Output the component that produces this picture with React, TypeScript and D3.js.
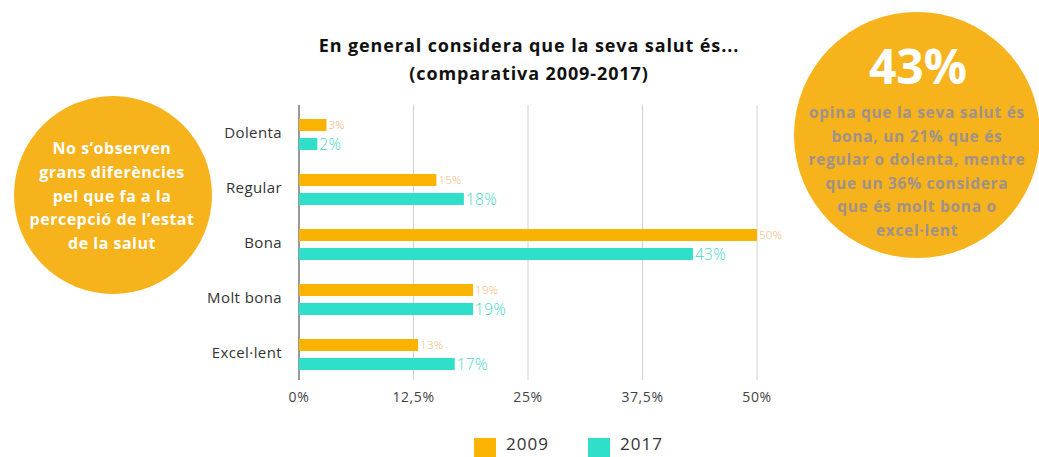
import React, { useEffect, useRef } from "react";
import * as d3 from "d3";

// dades llegides del gràfic
const categories = ["Dolenta", "Regular", "Bona", "Molt bona", "Excel·lent"];
const years = ["2009", "2017"];
const values2009 = [3, 15, 50, 19, 13];
const values2017 = [2, 18, 43, 19, 17];
const xTicks = [0, 12.5, 25, 37.5, 50];
const xTickLabels = ["0%", "12,5%", "25%", "37,5%", "50%"];

const leftNote = [
  "No s’observen",
  "grans diferències",
  "pel que fa a la",
  "percepció de l’estat",
  "de la salut",
];
const rightNote = [
  "opina que la seva salut és",
  "bona, un 21% que és",
  "regular o dolenta, mentre",
  "que un 36% considera",
  "que és molt bona o",
  "excel·lent",
];

const FONT = "'Open Sans', 'Noto Sans', sans-serif";
const ORANGE = "#f9b300";
const TEAL = "#2fdfca";
const CIRCLE = "#f6b31c";

export default function App() {
  const svgRef = useRef<SVGSVGElement | null>(null);

  useEffect(() => {
    const w = 1039;
    const h = 457;
    const svg = d3
      .select(svgRef.current)
      .attr("width", w)
      .attr("height", h)
      .style("background", "#fff")
      .style("font-family", FONT);
    svg.selectAll("*").remove();

    const xScale = d3.scaleLinear().domain([0, 50]).range([299, 757]);
    const yScale = d3.scaleBand().domain(categories).range([105, 380]);
    const yInner = d3
      .scaleBand()
      .domain(years)
      .range([14, 45])
      .paddingInner(0.368);

    // title
    [
      "En general considera que la seva salut és...",
      "(comparativa 2009-2017)",
    ].forEach((t, i) => {
      svg
        .append("text")
        .attr("x", 529)
        .attr("y", 52 + i * 28)
        .attr("text-anchor", "middle")
        .attr("font-size", "18px")
        .attr("letter-spacing", "0.9px")
        .attr("font-weight", "bold")
        .attr("fill", "#111")
        .text(t);
    });

    // grid
    svg
      .append("g")
      .selectAll("line")
      .data(xTicks.slice(1))
      .join("line")
      .attr("x1", (d) => xScale(d))
      .attr("x2", (d) => xScale(d))
      .attr("y1", 105)
      .attr("y2", 380)
      .attr("stroke", "#d0d0d0")
      .attr("stroke-width", 1);

    svg
      .append("line")
      .attr("x1", xScale(0))
      .attr("x2", xScale(0))
      .attr("y1", 105)
      .attr("y2", 380)
      .attr("stroke", "#555")
      .attr("stroke-width", 1.2);

    // x tick labels
    svg
      .append("g")
      .selectAll("text")
      .data(xTicks)
      .join("text")
      .attr("x", (d) => xScale(d))
      .attr("y", 402)
      .attr("text-anchor", "middle")
      .attr("font-size", "14px")
      .attr("letter-spacing", "0.6px")
      .attr("fill", "#444")
      .text((d, i) => xTickLabels[i]);

    // category labels
    svg
      .append("g")
      .selectAll("text")
      .data(categories)
      .join("text")
      .attr("x", 282)
      .attr("y", (d) => (yScale(d) as number) + yScale.bandwidth() / 2 + 5)
      .attr("text-anchor", "end")
      .attr("font-size", "15px")
      .attr("letter-spacing", "0.4px")
      .attr("fill", "#333")
      .text((d) => d);

    const series = [
      { year: "2009", values: values2009, color: ORANGE, label: "#f4b774", size: 11.5 },
      { year: "2017", values: values2017, color: TEAL, label: "#3fd8c8", size: 15.5 },
    ];

    series.forEach((s) => {
      const g = svg.append("g");
      g.selectAll("rect")
        .data(s.values)
        .join("rect")
        .attr("x", xScale(0))
        .attr("y", (d, i) => (yScale(categories[i]) as number) + (yInner(s.year) as number))
        .attr("width", (d) => xScale(d) - xScale(0))
        .attr("height", yInner.bandwidth())
        .attr("fill", s.color);
      g.selectAll("text")
        .data(s.values)
        .join("text")
        .attr("x", (d) => xScale(d) + 2)
        .attr(
          "y",
          (d, i) =>
            (yScale(categories[i]) as number) +
            (yInner(s.year) as number) +
            yInner.bandwidth() / 2 +
            s.size * 0.36
        )
        .attr("font-size", `${s.size}px`)
        .attr("letter-spacing", "0.3px")
        .attr("font-weight", 300)
        .attr("fill", s.label)
        .text((d) => `${d}%`);
    });

    // legend
    const legend = svg.append("g");
    [
      { year: "2009", color: ORANGE, x: 474 },
      { year: "2017", color: TEAL, x: 588 },
    ].forEach((l) => {
      legend
        .append("rect")
        .attr("x", l.x)
        .attr("y", 438)
        .attr("width", 22)
        .attr("height", 19)
        .attr("fill", l.color);
      legend
        .append("text")
        .attr("x", l.x + 32)
        .attr("y", 450)
        .attr("font-size", "17px")
        .attr("letter-spacing", "1px")
        .attr("fill", "#333")
        .text(l.year);
    });

    // left circle
    svg
      .append("circle")
      .attr("cx", 113)
      .attr("cy", 195)
      .attr("r", 99)
      .attr("fill", CIRCLE);
    svg
      .append("g")
      .selectAll("text")
      .data(leftNote)
      .join("text")
      .attr("x", 112)
      .attr("y", (d, i) => 154 + i * 23.8)
      .attr("text-anchor", "middle")
      .attr("font-size", "16px")
      .attr("letter-spacing", "0.5px")
      .attr("font-weight", "bold")
      .attr("fill", "#fff")
      .text((d) => d);

    // right circle
    svg
      .append("circle")
      .attr("cx", 917)
      .attr("cy", 135)
      .attr("r", 123)
      .attr("fill", CIRCLE);
    svg
      .append("text")
      .attr("x", 918)
      .attr("y", 84)
      .attr("text-anchor", "middle")
      .attr("font-size", "48px")
      .attr("font-weight", "bold")
      .attr("fill", "#fff")
      .text("43%");
    svg
      .append("g")
      .selectAll("text")
      .data(rightNote)
      .join("text")
      .attr("x", 917)
      .attr("y", (d, i) => 118 + i * 23.6)
      .attr("text-anchor", "middle")
      .attr("font-size", "15.5px")
      .attr("letter-spacing", "0.7px")
      .attr("font-weight", "bold")
      .attr("fill", "#a0918a")
      .text((d) => d);
  }, []);

  return (
    <div style={{ position: "absolute", left: 0, top: 0 }}>
      <svg ref={svgRef}></svg>
    </div>
  );
}
